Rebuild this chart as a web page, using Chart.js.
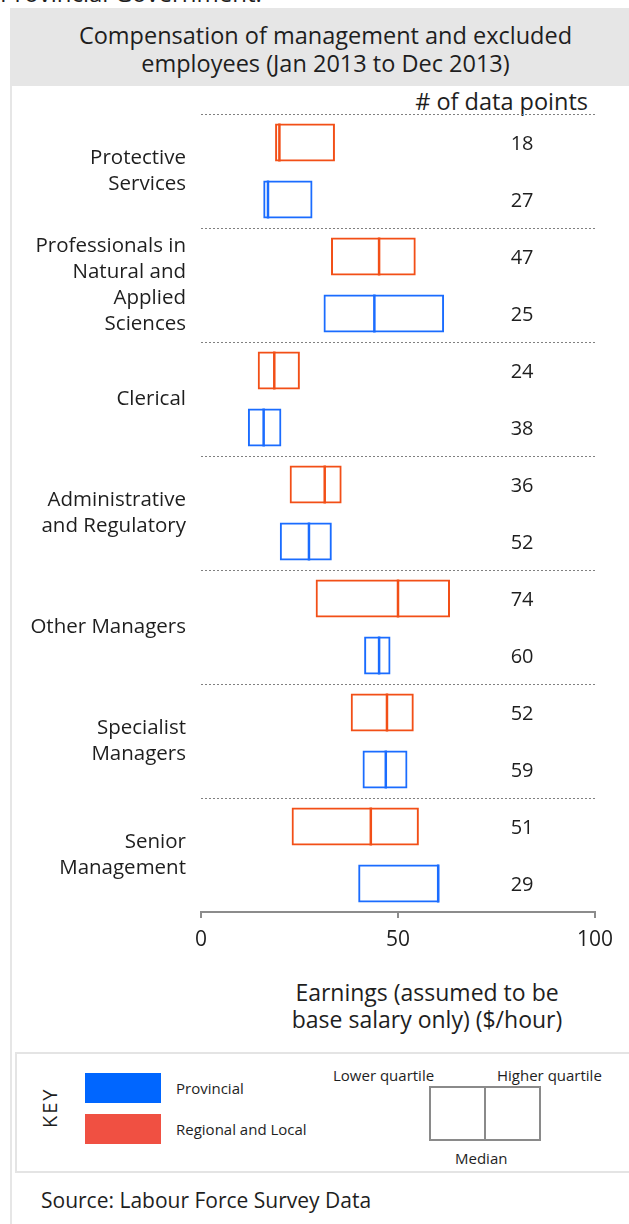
<!DOCTYPE html>
<html>
<head>
<meta charset="utf-8">
<script src="https://cdn.jsdelivr.net/npm/chart.js@4.4.1/dist/chart.umd.min.js"></script>
<style>
  body { margin: 0; width: 629px; height: 1224px; overflow: hidden; background: #fff;
         font-family: "Open Sans", sans-serif; color: #1e1e1e; position: relative; }
  .abs { position: absolute; white-space: nowrap; }
  #lead { left: 0; top: -19px; font-size: 24px; line-height: 24px; }
  #panel { left: 10px; top: 8px; width: 619px; height: 1216px; border-left: 2px solid #e6e6e6; }
  #title { left: 10px; top: 8px; width: 619px; height: 78px; background: #e6e6e6; padding-left: 12px;
           text-align: center; font-size: 23.5px; line-height: 28px; box-sizing: border-box; padding-top: 13px; }
  #countHead { right: 41px; top: 88px; font-size: 23.5px; line-height: 26px; }
  #chartBox { left: 12px; top: 86px; width: 617px; height: 880px; }
  #xTitle { left: 252px; top: 979px; width: 350px; text-align: center; font-size: 23px; line-height: 27px; }
  #key { left: 15px; top: 1052px; width: 640px; height: 117px; border: 2px solid #e4e4e4; }
  #keyWord { left: 30px; top: 1096px; width: 40px; text-align: center; font-size: 20px; line-height: 24px;
             transform: rotate(-90deg); letter-spacing: 2px; }
  .swatch { left: 85px; width: 76px; height: 30px; }
  .keyLabel { font-size: 15px; line-height: 20px; }
  #boxDemo { left: 429px; top: 1086px; width: 108px; height: 51px; border: 2px solid #8a8a8a; }
  #boxDemo div { position: absolute; left: 53px; top: 0; width: 2px; height: 51px; background: #8a8a8a; }
  #source { left: 41px; top: 1187px; font-size: 21px; line-height: 26px; }
</style>
</head>
<body>
<div class="abs" id="lead">Provincial Government:</div>
<div class="abs" id="panel"></div>
<div class="abs" id="title">Compensation of management and excluded<br>employees (Jan 2013 to Dec 2013)</div>
<div class="abs" id="countHead"># of data points</div>
<div class="abs" id="chartBox"><canvas id="myChart"></canvas></div>
<div class="abs" id="xTitle">Earnings (assumed to be<br>base salary only) ($/hour)</div>

<div class="abs" id="key"></div>
<div class="abs" id="keyWord">KEY</div>
<div class="abs swatch" style="top:1073px; background:#0066ff;"></div>
<div class="abs swatch" style="top:1114px; background:#f05042;"></div>
<div class="abs keyLabel" style="left:176px; top:1078px;">Provincial</div>
<div class="abs keyLabel" style="left:176px; top:1119px;">Regional and Local</div>
<div class="abs keyLabel" style="left:333px; top:1065px;">Lower quartile</div>
<div class="abs keyLabel" style="left:497px; top:1065px;">Higher quartile</div>
<div class="abs keyLabel" style="left:455px; top:1148px;">Median</div>
<div class="abs" id="boxDemo"><div></div></div>
<div class="abs" id="source">Source: Labour Force Survey Data</div>

<script>
const ctx = document.getElementById('myChart').getContext('2d');

// Occupation groups (multi-line labels as arrays)
const categories = [
    ['Protective', 'Services'],
    ['Professionals in', 'Natural and', 'Applied', 'Sciences'],
    'Clerical',
    ['Administrative', 'and Regulatory'],
    'Other Managers',
    ['Specialist', 'Managers'],
    ['Senior', 'Management']
];

// Regional and Local quartiles ($/hour)
const regionalLow    = [18.8, 33.0, 14.4, 22.5, 29.1, 38.0, 23.0];
const regionalMedian = [19.9, 45.2, 18.6, 31.4, 50.0, 47.2, 43.1];
const regionalHigh   = [34.0, 54.5, 25.1, 35.7, 63.2, 54.0, 55.3];

// Provincial quartiles ($/hour)
const provincialLow    = [15.8, 31.1, 11.9, 20.0, 41.4, 41.0, 39.9];
const provincialMedian = [17.0, 44.0, 15.9, 27.4, 45.2, 46.9, 60.2];
const provincialHigh   = [28.3, 61.7, 20.4, 33.2, 48.1, 52.4, 60.5];

// # of data points
const regionalCount   = [18, 47, 24, 36, 74, 52, 51];
const provincialCount = [27, 25, 38, 52, 60, 59, 29];

const xTicks = [0, 50, 100];
const countColumn = 81.5; // where the counts sit on the x scale

const medians = [regionalMedian, provincialMedian];
const counts = [regionalCount, provincialCount];

// draws the median stroke inside each box
const medianLines = {
    id: 'medianLines',
    afterDatasetsDraw(chart) {
        const c = chart.ctx;
        const x = chart.scales.x;
        chart.data.datasets.forEach((ds, d) => {
            chart.getDatasetMeta(d).data.forEach((bar, i) => {
                const px = x.getPixelForValue(medians[d][i]);
                c.save();
                c.strokeStyle = ds.borderColor;
                c.lineWidth = 2.5;
                c.beginPath();
                c.moveTo(px, bar.y - bar.height / 2);
                c.lineTo(px, bar.y + bar.height / 2);
                c.stroke();
                c.restore();
            });
        });
    }
};

// writes the count next to each box
const countLabels = {
    id: 'countLabels',
    afterDatasetsDraw(chart) {
        const c = chart.ctx;
        const px = chart.scales.x.getPixelForValue(countColumn);
        c.save();
        c.fillStyle = '#1e1e1e';
        c.font = '20px "Open Sans", sans-serif';
        c.textAlign = 'center';
        c.textBaseline = 'middle';
        chart.data.datasets.forEach((ds, d) => {
            chart.getDatasetMeta(d).data.forEach((bar, i) => {
                c.fillText(String(counts[d][i]), px, bar.y + 2);
            });
        });
        c.restore();
    }
};

const chart = new Chart(ctx, {
    type: 'bar',
    data: {
        labels: categories,
        datasets: [
            {
                label: 'Regional and Local',
                data: categories.map((c, i) => [regionalLow[i], regionalHigh[i]]),
                borderColor: '#f24f17',
                backgroundColor: 'rgba(255,255,255,0)',
                borderWidth: 2,
                borderSkipped: false
            },
            {
                label: 'Provincial',
                data: categories.map((c, i) => [provincialLow[i], provincialHigh[i]]),
                borderColor: '#1a6cff',
                backgroundColor: 'rgba(255,255,255,0)',
                borderWidth: 2,
                borderSkipped: false
            }
        ]
    },
    options: {
        indexAxis: 'y',
        responsive: true,
        maintainAspectRatio: false,
        animation: false,
        categoryPercentage: 1,
        barPercentage: 0.667,
        layout: { padding: { top: 28, right: 34, bottom: 14, left: 0 } },
        plugins: {
            legend: { display: false },
            tooltip: { enabled: false }
        },
        scales: {
            x: {
                min: 0,
                max: 100,
                afterBuildTicks: scale => { scale.ticks = xTicks.map(v => ({ value: v })); },
                afterFit: scale => { scale.height = 40; },
                grid: { drawOnChartArea: false, color: '#8c8c8c', lineWidth: 2, tickLength: 6 },
                border: { color: '#8c8c8c', width: 2 },
                ticks: { color: '#1e1e1e', font: { family: '"Open Sans", sans-serif', size: 21 }, padding: 9, maxRotation: 0 }
            },
            y: {
                afterFit: scale => {
                    scale.width = 189;
                    // labels may overhang the band; keep the plot top where it is
                    scale.paddingTop = 0;
                    scale.paddingBottom = 0;
                },
                grid: { color: '#808080', lineWidth: 1, drawTicks: false, offset: true },
                border: { display: false, dash: [2, 2] },
                ticks: { color: '#1e1e1e', font: { family: '"Open Sans", sans-serif', size: 20.5, lineHeight: 1.27 }, padding: 15 }
            }
        }
    },
    plugins: [medianLines, countLabels]
});
</script>
</body>
</html>
